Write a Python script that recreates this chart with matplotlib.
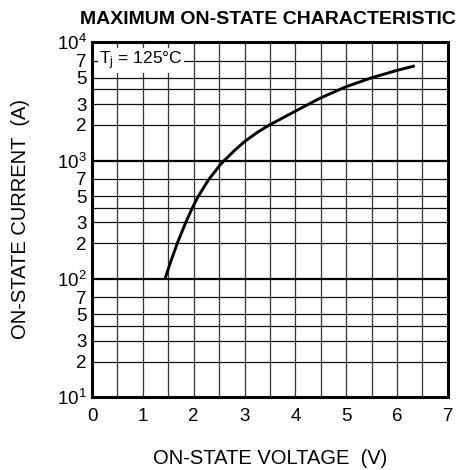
import numpy as np
import matplotlib
matplotlib.use('Agg')
import matplotlib.pyplot as plt
from matplotlib.ticker import FixedLocator, FixedFormatter

plt.rcParams['font.family'] = ['Liberation Sans', 'DejaVu Sans']
plt.rcParams['mathtext.fontset'] = 'custom'
plt.rcParams['mathtext.rm'] = 'Liberation Sans'
plt.rcParams['mathtext.it'] = 'Liberation Sans'

# curve (V, A)
voltage = [1.435, 1.553, 1.685, 1.842, 1.972, 2.078, 2.287, 2.517, 2.605, 2.812, 3.008,
           3.25, 3.5, 4.005, 4.483, 4.994, 5.5, 6.003, 6.351]
current = [100, 142, 204, 299, 397, 489, 684, 916, 1005, 1227, 1456,
           1730, 2010, 2624, 3365, 4207, 5012, 5794, 6324]

x_ticks = [0, 1, 2, 3, 4, 5, 6, 7]
x_grid = [0.5, 1.5, 2.5, 3.5, 4.5, 5.5, 6.5]
decades = [10, 100, 1000, 10000]
decade_labels = ['$10^1$', '$10^2$', '$10^3$', '$10^4$']
minor_mult = [2, 3, 4, 5, 7]
minor_text = {2: '2', 3: '3', 4: '', 5: '5', 7: '7'}

fig = plt.figure(figsize=(4.65, 4.7), dpi=100)
ax = fig.add_axes([0.198, 0.155, 0.765, 0.755])

ax.set_yscale('log')
ax.set_xlim(0, 7)
ax.set_ylim(10, 10000)

# grid
for xv in x_ticks[1:-1] + x_grid:
    ax.axvline(xv, color='#333333', lw=0.9, zorder=1)
minor_pos = []
minor_lab = []
for d in decades[:-1]:
    for m in minor_mult:
        minor_pos.append(d * m)
        minor_lab.append(minor_text[m])
        ax.axhline(d * m, color='#111111', lw=0.9, zorder=1)
for d in decades[1:-1]:
    ax.axhline(d, color='black', lw=1.6, zorder=1)

ax.plot(voltage, current, color='black', lw=2.1, zorder=3,
        solid_joinstyle='round', solid_capstyle='butt')

ax.text(0.14, 7000, r'T$_{\mathrm{j}}$ = 125°C', fontsize=12.5, va='center', ha='left',
        zorder=4, bbox=dict(facecolor='white', edgecolor='none', pad=1.0))

ax.xaxis.set_major_locator(FixedLocator(x_ticks))
ax.yaxis.set_major_locator(FixedLocator(decades))
ax.yaxis.set_major_formatter(FixedFormatter(decade_labels))
ax.yaxis.set_minor_locator(FixedLocator(minor_pos))
ax.yaxis.set_minor_formatter(FixedFormatter(minor_lab))
ax.tick_params(axis='both', which='both', length=0, labelsize=13.5)
ax.tick_params(axis='x', pad=8)
ax.tick_params(axis='y', which='both', pad=4)

for s in ax.spines.values():
    s.set_linewidth(2.2)
    s.set_zorder(5)

fig.text(0.581, 0.012, 'ON-STATE VOLTAGE  (V)', fontsize=14.5, ha='center', va='baseline')
fig.text(0.044, 0.534, 'ON-STATE CURRENT  (A)', fontsize=14.5, ha='center', va='center',
         rotation=90)
fig.text(0.576, 0.949, 'MAXIMUM ON-STATE CHARACTERISTIC', fontsize=14,
         fontweight='bold', ha='center', va='baseline')

fig.savefig('out.png', dpi=100)
